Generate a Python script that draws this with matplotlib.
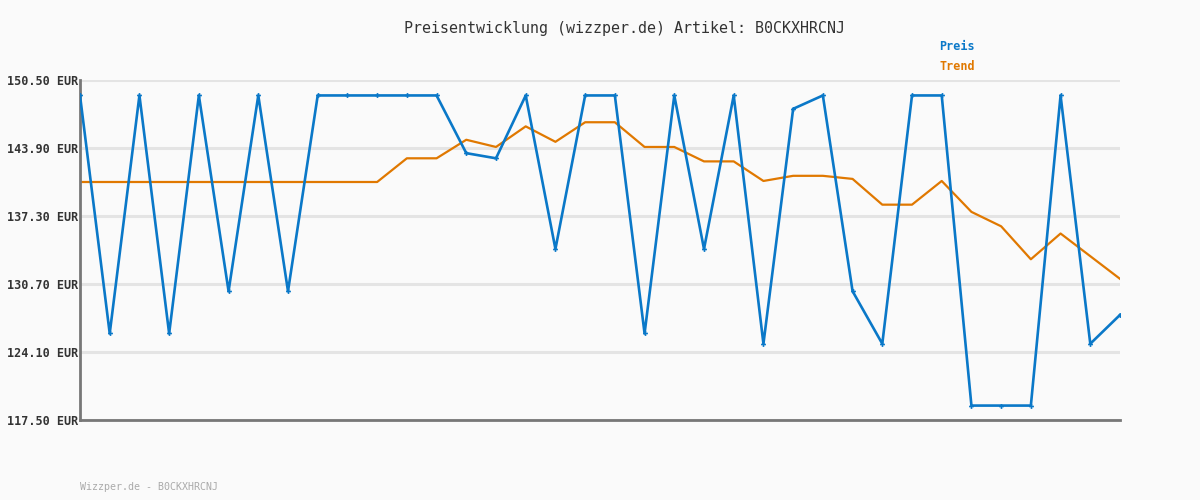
import matplotlib
matplotlib.use("Agg")
import matplotlib.pyplot as plt
import numpy as np

preis = [149.0, 125.9, 149.0, 125.9, 149.0, 130.0, 149.0, 130.0, 149.0, 149.0,
         149.0, 149.0, 149.0, 143.4, 142.9, 149.0, 134.1, 149.0, 149.0, 125.9,
         149.0, 134.1, 149.0, 124.9, 147.7, 149.0, 130.0, 124.9, 149.0, 149.0,
         118.9, 118.9, 118.9, 149.0, 124.9, 127.7]
trend = [140.6, 140.6, 140.6, 140.6, 140.6, 140.6, 140.6, 140.6, 140.6, 140.6,
         140.6, 142.9, 142.9, 144.7, 144.0, 146.0, 144.5, 146.4, 146.4, 144.0,
         144.0, 142.6, 142.6, 140.7, 141.2, 141.2, 140.9, 138.4, 138.4, 140.7,
         137.7, 136.3, 133.1, 135.6, 133.4, 131.2]
yticks = [117.5, 124.1, 130.7, 137.3, 143.9, 150.5]
ytick_labels = [f"{v:.2f} EUR" for v in yticks]
title = "Preisentwicklung (wizzper.de) Artikel: B0CKXHRCNJ"
footer = "Wizzper.de - B0CKXHRCNJ"

BG = "#fafafa"
BLUE = "#0a78c8"
ORANGE = "#e07800"
mono = "DejaVu Sans Mono"

fig = plt.figure(figsize=(12, 5), dpi=100, facecolor=BG)
ax = fig.add_axes([80/1200, 80/500, 1040/1200, 340/500], facecolor=BG)

x = np.arange(len(preis))
ax.set_xlim(0, len(preis) - 1)
ax.set_ylim(117.5, 150.5)

for v in yticks:
    ax.axhline(v, color="#e4e4e4", lw=2.2, zorder=0)

ax.plot(x, trend, color=ORANGE, lw=1.6, zorder=2)
ax.plot(x, preis, color=BLUE, lw=1.9, zorder=3, marker="P", markersize=3.5,
        markeredgewidth=0, markerfacecolor=BLUE)

ax.set_yticks(yticks)
ax.set_yticklabels(ytick_labels, family=mono, fontsize=8.5, fontweight="bold",
                   color="#333333")
ax.tick_params(axis="y", length=0, pad=1)
ax.set_xticks([])
for s in ["top", "right"]:
    ax.spines[s].set_visible(False)
for s in ["left", "bottom"]:
    ax.spines[s].set_color("#777777")
    ax.spines[s].set_linewidth(2)

fig.text(624/1200, 1 - 28/500, title, family=mono, fontsize=10.8, color="#333333",
         ha="center", va="center")
fig.text(939/1200, 1 - 47/500, "Preis", family=mono, fontsize=8.5, fontweight="bold",
         color=BLUE, ha="left", va="center")
fig.text(939/1200, 1 - 67/500, "Trend", family=mono, fontsize=8.5, fontweight="bold",
         color=ORANGE, ha="left", va="center")
fig.text(80/1200, 1 - 487/500, footer, family=mono, fontsize=7.2, color="#aaaaaa",
         ha="left", va="center")

fig.savefig("out.png", dpi=100, facecolor=BG)
